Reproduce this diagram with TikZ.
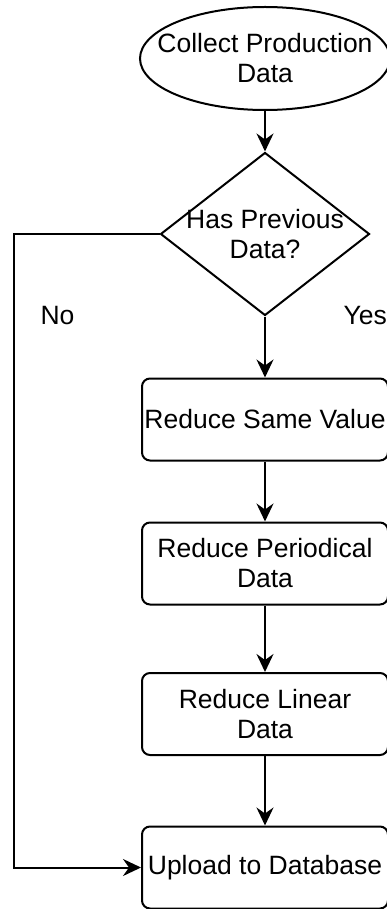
\documentclass[tikz,border=0pt]{standalone}
\usepackage{fontspec}
\setmainfont{Liberation Sans}
\usetikzlibrary{shapes,arrows.meta}

\tikzset{
  stepbox/.style={shape=rectangle,rounded corners=8pt,draw=black,align=center,line width=2pt,minimum width=246pt,minimum height=82pt,inner sep=0pt},
  flow/.style={-{Stealth[length=18pt,width=17pt,inset=6pt]},draw=black,line width=2pt}
}

\begin{document}
\begin{tikzpicture}[x=1pt,y=-1pt,every node/.style={font=\fontsize{26.5}{30}\selectfont}]
\useasboundingbox (0,0) rectangle (387,909);
\node[shape=ellipse,draw=black,align=center,line width=2pt,minimum width=250pt,minimum height=103pt,inner sep=-25pt] (0) at (265,58.5) {Collect Production\\Data};
\node[shape=diamond,draw=black,align=center,line width=2pt,minimum width=209pt,minimum height=163pt,inner sep=-25pt] (1) at (265,234) {Has Previous\\Data?};
\node[stepbox] (2) at (265,419.5) {Reduce Same Value};
\node[stepbox] (3) at (265,563.5) {Reduce Periodical\\Data};
\node[stepbox] (4) at (265,714) {Reduce Linear\\Data};
\node[stepbox] (5) at (265,867.5) {Upload to Database};
\node[anchor=base west] (6) at (37,324) {No};
\node[anchor=base west] (7) at (340,324) {Yes};
\coordinate (8) at (14,234);

\path [flow] (0) edge (1);
\path [flow] (1) edge (2);
\path [flow] (2) edge (3);
\path [flow] (3) edge (4);
\path [flow] (4) edge (5);
\draw [flow] (1.west) -- (8) |- (5.west);
\end{tikzpicture}
\end{document}
